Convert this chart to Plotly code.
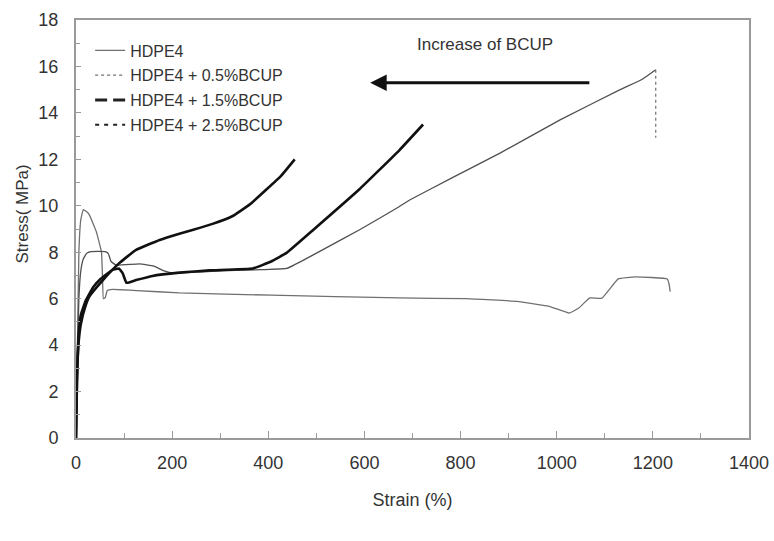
import plotly.graph_objects as go

# ---------------- data ----------------
series_names = ["HDPE4", "HDPE4 + 0.5%BCUP", "HDPE4 + 1.5%BCUP", "HDPE4 + 2.5%BCUP"]

hdpe4_strain = [0, 3, 6, 10, 15, 22, 28, 42, 53, 55, 57, 61, 65, 76, 126, 215, 406, 673, 812,
                917, 986, 1026, 1046, 1069, 1094, 1128, 1164, 1230, 1234, 1236]
hdpe4_stress = [0, 4.0, 8.0, 9.4, 9.83, 9.75, 9.6, 8.9, 8.0, 7.0, 6.0, 6.05, 6.35, 6.4, 6.35, 6.25, 6.15, 6.03, 6.0,
                5.88, 5.66, 5.38, 5.6, 6.03, 6.02, 6.85, 6.94, 6.85, 6.6, 6.3]

b05_strain = [0, 3, 6, 10, 15, 22, 31, 61, 67, 73, 83, 132, 162, 183, 203, 305, 386, 438, 477, 508,
              590, 673, 695, 782, 883, 1007, 1132, 1178, 1206, 1206]
b05_stress = [0, 3.5, 6.0, 7.2, 7.7, 7.95, 8.03, 8.03, 7.95, 7.6, 7.45, 7.5, 7.4, 7.2, 7.1, 7.2, 7.25, 7.3, 7.7, 8.05,
              8.97, 9.97, 10.26, 11.2, 12.28, 13.7, 15.0, 15.45, 15.86, 12.93]

b15_strain = [0, 2, 5, 10, 20, 36, 51, 76, 89, 97, 105, 125, 159, 215, 278, 368, 406, 438, 494, 589, 673, 722]
b15_stress = [0, 2.5, 4.3, 5.3, 5.9, 6.5, 6.85, 7.24, 7.3, 7.1, 6.68, 6.8, 6.98, 7.12, 7.22, 7.3, 7.6, 7.97, 8.97,
              10.7, 12.4, 13.5]

b25_strain = [0, 2, 5, 10, 20, 28, 56, 90, 125, 174, 215, 244, 284, 325, 361, 396, 427, 455]
b25_stress = [0, 2.5, 4.0, 4.9, 5.7, 6.1, 6.8, 7.53, 8.1, 8.53, 8.8, 8.97, 9.22, 9.55, 10.05, 10.7, 11.3, 12.0]

x_ticks = [0, 200, 400, 600, 800, 1000, 1200, 1400]
y_ticks = [0, 2, 4, 6, 8, 10, 12, 14, 16, 18]

# arrow annotation (data coordinates)
arrow_tail = (1071, 15.3)
arrow_tip = (612, 15.3)
arrow_label = "Increase of BCUP"
arrow_label_pos = (850, 16.94)

x_title = "Strain (%)"
y_title = "Stress( MPa)"

# ---------------- styles ----------------
FONT = "Liberation Sans, Arial, sans-serif"
TXT = "#333333"
AX = "#9a9a9a"

fig = go.Figure()

styles = [
    dict(color="#707070", width=1.3),
    dict(color="#505050", width=1.3),
    dict(color="#111111", width=2.6),
    dict(color="#111111", width=2.6),
]
legend_styles = [
    dict(color="#707070", width=1.3, dash="solid"),
    dict(color="#707070", width=1.2, dash="dot"),
    dict(color="#222222", width=3, dash="12px,6px"),
    dict(color="#222222", width=2, dash="4px,5px"),
]
data = [
    (hdpe4_strain, hdpe4_stress),
    (b05_strain[:-1], b05_stress[:-1]),
    (b15_strain, b15_stress),
    (b25_strain, b25_stress),
]

for i, (name, (xs, ys)) in enumerate(zip(series_names, data)):
    grp = f"g{i}"
    fig.add_trace(go.Scatter(x=xs, y=ys, mode="lines", name=name, legendgroup=grp,
                             showlegend=False, line=dict(**styles[i], shape="spline", smoothing=0.3)))
    if i == 1:
        # dotted drop at break
        fig.add_trace(go.Scatter(x=b05_strain[-2:], y=b05_stress[-2:], mode="lines", name=name,
                                 legendgroup=grp, showlegend=False,
                                 line=dict(color="#707070", width=1.2, dash="dot")))
    # legend sample
    fig.add_trace(go.Scatter(x=[None], y=[None], mode="lines", name=name, legendgroup=grp,
                             showlegend=True, line=legend_styles[i]))

fig.add_annotation(x=arrow_tip[0], y=arrow_tip[1], ax=arrow_tail[0], ay=arrow_tail[1],
                   xref="x", yref="y", axref="x", ayref="y", text="", showarrow=True,
                   arrowhead=2, arrowsize=1.1, arrowwidth=3, arrowcolor="#111111")
fig.add_annotation(x=arrow_label_pos[0], y=arrow_label_pos[1], xref="x", yref="y",
                   text=arrow_label, showarrow=False,
                   font=dict(family=FONT, size=17, color=TXT))
# y-axis title (placed slightly above the axis centre, as in the reference)
fig.add_annotation(x=-0.08, y=0.535, xref="paper", yref="paper", text=y_title,
                   textangle=-90, showarrow=False, xanchor="center", yanchor="middle",
                   font=dict(family=FONT, size=17, color=TXT))

fig.update_layout(
    width=774, height=541,
    margin=dict(l=76, r=25, t=20, b=103),
    paper_bgcolor="white", plot_bgcolor="white",
    font=dict(family=FONT, color=TXT),
    legend=dict(x=0.021, y=0.968, xanchor="left", yanchor="top",
                bgcolor="rgba(0,0,0,0)", borderwidth=0,
                font=dict(family=FONT, size=16, color=TXT),
                tracegroupgap=1, itemwidth=30),
    showlegend=True,
)
fig.update_xaxes(
    range=[0, 1400], tickvals=x_ticks, ticktext=[str(v) for v in x_ticks],
    showgrid=False, zeroline=False, automargin=False,
    showline=True, mirror=True, linecolor=AX, linewidth=2,
    ticks="inside", ticklen=7, tickcolor=AX, tickwidth=1,
    minor=dict(dtick=100, ticks="inside", ticklen=5, tickcolor=AX, showgrid=False),
    tickfont=dict(family=FONT, size=18, color=TXT), ticklabelstandoff=7,
    ticklabeloverflow="allow",
    title=dict(text=x_title, font=dict(family=FONT, size=18, color=TXT), standoff=22),
)
fig.update_yaxes(
    range=[0, 18], tickvals=y_ticks, ticktext=[str(v) for v in y_ticks],
    showgrid=False, zeroline=False, automargin=False,
    showline=True, mirror=True, linecolor=AX, linewidth=2,
    ticks="inside", ticklen=5, tickcolor=AX, tickwidth=1,
    minor=dict(dtick=1, ticks="inside", ticklen=4, tickcolor=AX, showgrid=False),
    tickfont=dict(family=FONT, size=18, color=TXT), ticklabelstandoff=12,
)

fig.write_html("out.html")
